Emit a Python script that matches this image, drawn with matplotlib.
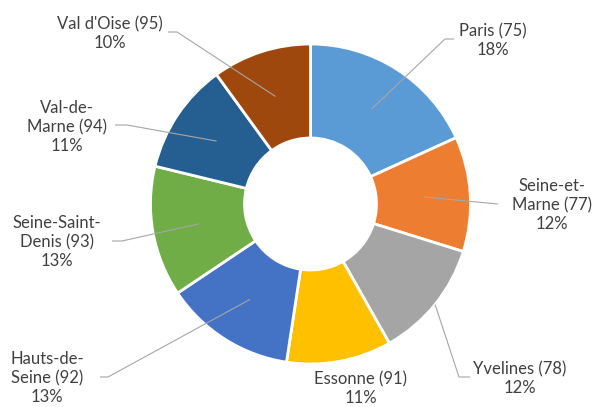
import matplotlib
matplotlib.use("Agg")
import matplotlib.pyplot as plt
import numpy as np

# Population share by département, Île-de-France (%)
departements = ["Paris (75)", "Seine-et-Marne (77)", "Yvelines (78)", "Essonne (91)",
                "Hauts-de-Seine (92)", "Seine-Saint-Denis (93)", "Val-de-Marne (94)",
                "Val d'Oise (95)"]
label_lines = [["Paris (75)"], ["Seine-et-", "Marne (77)"], ["Yvelines (78)"],
               ["Essonne (91)"], ["Hauts-de-", "Seine (92)"], ["Seine-Saint-", "Denis (93)"],
               ["Val-de-", "Marne (94)"], ["Val d'Oise (95)"]]
shares = [18.2, 11.6, 12.0, 10.6, 13.2, 13.2, 11.2, 10.0]
colors = ["#5B9BD5", "#ED7D31", "#A5A5A5", "#FFC000", "#4472C4", "#70AD47",
          "#255E91", "#9E480E"]

W, H = 595, 407
CX, CY = 310.5, 204          # pie centre in pixels (from top-left)
R_OUT, R_IN = 160, 66

fig = plt.figure(figsize=(W / 100, H / 100), dpi=100)
ax = fig.add_axes([0, 0, 1, 1])

wedges, _ = ax.pie(shares, colors=colors, radius=R_OUT, startangle=90,
                   counterclock=False,
                   wedgeprops=dict(width=R_OUT - R_IN, edgecolor="white", linewidth=2))

ax.set_xlim(-CX, W - CX)
ax.set_ylim(-(H - CY), CY)
ax.set_aspect("equal")
ax.axis("off")

def px(x, y):
    """pixel coordinates (origin top-left) -> data coordinates"""
    return x - CX, CY - y

# label block centre, leader knee and leader end (pixels); anchor radius on the ring
layout = [
    dict(text=(493, 41), knee=(445, 39), end=(454, 39), r=113),
    dict(text=(552, 205), knee=(498, 204), end=(498, 204), r=113),
    dict(text=(520, 379), knee=(459, 377), end=(470, 377), r=160),
    dict(text=(361, 389), knee=None, end=None, r=None),
    dict(text=(47, 378), knee=(108, 377), end=(100, 377), r=113),
    dict(text=(57, 242), knee=(122, 241), end=(112, 241), r=113),
    dict(text=(67, 127), knee=(127, 125), end=(115, 125), r=113),
    dict(text=(110, 33.5), knee=(177, 32), end=(168, 32), r=113),
]

text_color = "#404040"
line_color = "#A6A6A6"

for w, lines, val, lay in zip(wedges, label_lines, shares, layout):
    txt = "\n".join(lines + [f"{round(val)}%"])
    tx, ty = px(*lay["text"])
    ax.text(tx, ty, txt, ha="center", va="center", multialignment="center",
            fontsize=12, family=["Lato", "DejaVu Sans"], color=text_color,
            linespacing=1.2)
    if lay["knee"] is not None:
        mid = np.deg2rad((w.theta1 + w.theta2) / 2)
        ax0, ay0 = lay["r"] * np.cos(mid), lay["r"] * np.sin(mid)
        kx, ky = px(*lay["knee"])
        ex, ey = px(*lay["end"])
        ax.plot([ax0, kx, ex], [ay0, ky, ey], color=line_color, lw=0.8,
                solid_capstyle="butt", zorder=5)

fig.savefig("out.png", dpi=100, facecolor="white")
